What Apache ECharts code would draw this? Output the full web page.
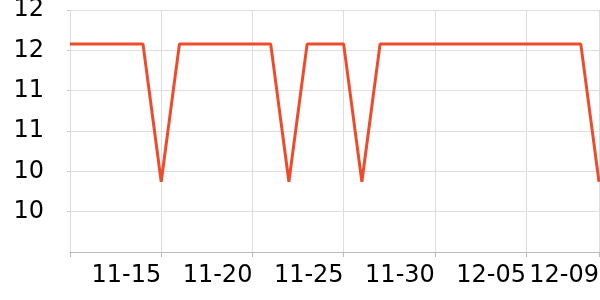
<!DOCTYPE html>
<html><head><meta charset="utf-8">
<script src="https://cdn.jsdelivr.net/npm/echarts@6/dist/echarts.min.js"></script>
<style>html,body{margin:0;padding:0;background:#fff}#c{width:600px;height:300px}</style>
</head><body><div id="c"></div>
<script>
var categories = ['11-10','11-11','11-12','11-13','11-14','11-15','11-16','11-17','11-18','11-19','11-20','11-21','11-22','11-23','11-24','11-25','11-26','11-27','11-28','11-29','11-30','12-01','12-02','12-03','12-04','12-05','12-06','12-07','12-08','12-09'];
var values = [11.58,11.58,11.58,11.58,11.58,9.87,11.58,11.58,11.58,11.58,11.58,11.58,9.87,11.58,11.58,11.58,9.87,11.58,11.58,11.58,11.58,11.58,11.58,11.58,11.58,11.58,11.58,11.58,11.58,9.87];
var xTickLabels = ['11-15','11-20','11-25','11-30','12-05','12-09'];
var yTicks = {min: 9, max: 12, interval: 0.5};

var chart = echarts.init(document.getElementById('c'), null, {renderer: 'canvas'});
function showTick(idx, val) { return xTickLabels.indexOf(val) >= 0 || idx === 0; }
chart.setOption({
  animation: false,
  grid: {left: 70, right: 1, top: 10, bottom: 48, containLabel: false, outerBoundsMode: 'none'},
  xAxis: {
    type: 'category', data: categories, boundaryGap: false,
    axisLine: {lineStyle: {color: '#bbb'}},
    axisTick: {show: true, length: 5, interval: showTick, lineStyle: {color: '#bbb'}},
    splitLine: {show: true, interval: showTick, lineStyle: {color: '#ddd'}},
    axisLabel: {fontFamily: 'DejaVu Sans', fontSize: 24, color: '#000', margin: 12, align: 'right',
      interval: function (idx, val) { return xTickLabels.indexOf(val) >= 0; }}
  },
  yAxis: {
    type: 'value', min: yTicks.min, max: yTicks.max, interval: yTicks.interval,
    axisLine: {show: true, lineStyle: {color: '#ddd'}},
    axisTick: {show: true, length: 3, lineStyle: {color: '#ccc'}},
    splitLine: {lineStyle: {color: '#ddd'}},
    axisLabel: {fontFamily: 'DejaVu Sans', fontSize: 24, color: '#000', margin: 26, showMinLabel: false,
      formatter: function (v) { return Math.round(v).toString(); }}
  },
  series: [{type: 'line', data: values, showSymbol: false, symbol: 'none',
    lineStyle: {color: '#ee4b2b', width: 3}, itemStyle: {color: '#ee4b2b'}}]
});
</script></body></html>
